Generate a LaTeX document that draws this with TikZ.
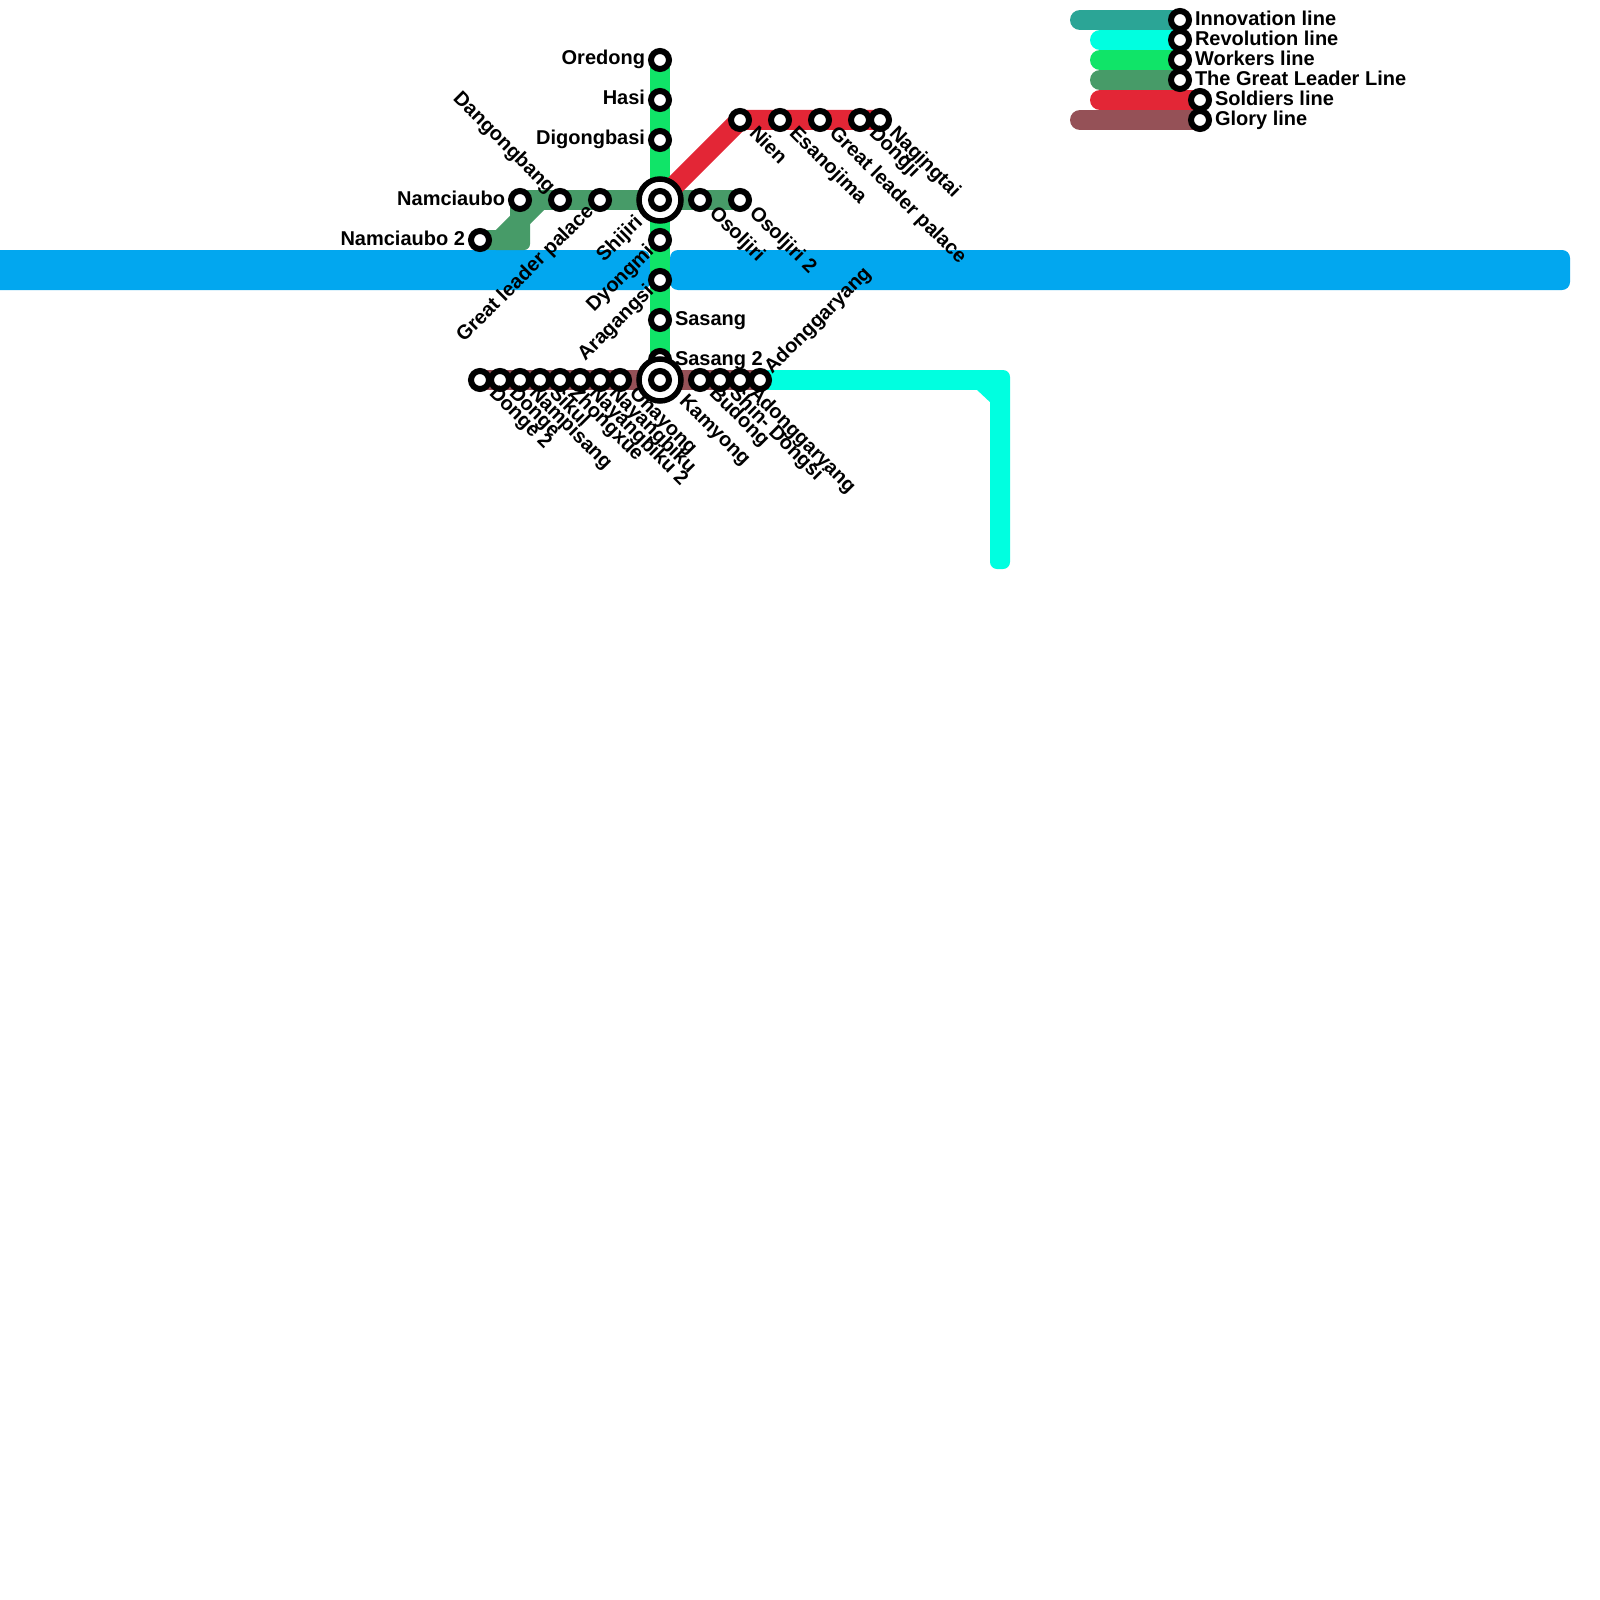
\documentclass[tikz,border=0pt]{standalone}
\usepackage{fontspec}
\setmainfont{Liberation Sans}[BoldFont={Liberation Sans Bold}]
\usetikzlibrary{backgrounds}
\definecolor{cInno}{HTML}{2BA596}
\definecolor{cRev}{HTML}{00FFE0}
\definecolor{cWork}{HTML}{10E468}
\definecolor{cLead}{HTML}{479B68}
\definecolor{cSold}{HTML}{E32636}
\definecolor{cGlory}{HTML}{955157}
\definecolor{cBlue}{HTML}{02A7EF}
\tikzset{
  stn/.style={circle,draw=black,fill=white,line width=6pt,inner sep=0pt,minimum size=18pt},
  hub/.style={circle,draw=black,fill=white,line width=5.5pt,inner sep=0pt,minimum size=42pt},
  txt/.style={font=\fontsize{20}{20}\selectfont\bfseries,text=black,inner sep=0pt,outer sep=0pt},
  lft/.style={txt,shift={(-15,5)},anchor=base east},
  rgt/.style={txt,shift={(15,5)},anchor=base west},
  lgt/.style={txt,shift={(15,5.6)},anchor=base west},
  dr/.style={txt,shift={(8.5,14)},rotate=-45,anchor=base west},
  hubdr/.style={txt,shift={(18.5,22)},rotate=-45,anchor=base west},
  ul/.style={txt,shift={(-12.5,-5.5)},rotate=-45,anchor=base east},
  dl/.style={txt,shift={(-5.5,12.5)},rotate=45,anchor=base east},
  hubdl/.style={txt,shift={(-16.5,23.5)},rotate=45,anchor=base east},
  ur/.style={txt,shift={(12,-5.5)},rotate=45,anchor=base west},
  ln/.style={line width=20pt,line cap=butt,line join=miter},
  rn/.style={line width=20pt,line cap=round},
}
\newcommand{\lbl}[3]{\node[#1] (t#2) at (#2.center) {#3};}
\begin{document}
\begin{tikzpicture}[x=1pt,y=-1pt]
\useasboundingbox (0,0) rectangle (1600,1600);
\clip (0,0) rectangle (1600,1600);
% stations
\node[stn] (ore) at (660,60) {};
\node[stn] (has) at (660,100) {};
\node[stn] (dig) at (660,140) {};
\node[stn] (dyo) at (660,240) {};
\node[stn] (ara) at (660,280) {};
\node[stn] (sas) at (660,320) {};
\node[stn] (sast) at (660,360) {};
\node[stn] (nam) at (520,200) {};
\node[stn] (namt) at (480,240) {};
\node[stn] (dan) at (560,200) {};
\node[stn] (gre) at (600,200) {};
\node[stn] (oso) at (700,200) {};
\node[stn] (osot) at (740,200) {};
\node[stn] (nie) at (740,120) {};
\node[stn] (esa) at (780,120) {};
\node[stn] (glp) at (820,120) {};
\node[stn] (don) at (860,120) {};
\node[stn] (nag) at (880,120) {};
\node[stn] (dgt) at (480,380) {};
\node[stn] (dge) at (500,380) {};
\node[stn] (npi) at (520,380) {};
\node[stn] (sik) at (540,380) {};
\node[stn] (zho) at (560,380) {};
\node[stn] (nyt) at (580,380) {};
\node[stn] (nay) at (600,380) {};
\node[stn] (ona) at (620,380) {};
\node[stn] (bud) at (700,380) {};
\node[stn] (shi) at (720,380) {};
\node[stn] (ado) at (740,380) {};
\node[stn] (adt) at (760,380) {};
\node[hub] (hubA) at (660,200) {};
\node[stn] (shj) at (660,200) {};
\node[hub] (hubB) at (660,380) {};
\node[stn] (kam) at (660,380) {};
% legend stations
\node[stn] (lgA) at (1180,20) {};
\node[stn] (lgB) at (1180,40) {};
\node[stn] (lgC) at (1180,60) {};
\node[stn] (lgD) at (1180,80) {};
\node[stn] (lgE) at (1200,100) {};
\node[stn] (lgF) at (1200,120) {};
\coordinate (lsA) at (1080,20);
\coordinate (lsB) at (1100,40);
\coordinate (lsC) at (1100,60);
\coordinate (lsD) at (1100,80);
\coordinate (lsE) at (1100,100);
\coordinate (lsF) at (1080,120);
\coordinate (cvA) at (1000,380);
\begin{scope}[on background layer]
  \fill[white] (0,0) rectangle (1600,1600);
  \fill[cBlue,rounded corners=8pt] (-30,250) rectangle (650,290);
  \fill[cBlue,rounded corners=8pt] (670,250) rectangle (1570,290);
  \draw[ln,cWork] (ore.center) -- (sast.center);
  \draw[ln,cLead] (namt.center) -- (510,240);
  \fill[cLead,rounded corners=6pt] (510,200) -- (530,200) -- (530,250) -- (490,250) -- (490,230) -- (510,230) -- cycle;
  \draw[ln,cLead] (500,240) -- (540,200);
  \draw[ln,cLead] (nam.center) -- (osot.center);
  \draw[ln,cSold,line join=round] (hubA.center) -- (nie.center) -- (nag.center);
  \draw[ln,cGlory] (dgt.center) -- (adt.center);
  \draw[ln,cRev] (adt.center) -- (cvA);
  \fill[cRev,rounded corners=7pt] (985,370) -- (1010,370) -- (1010,569) -- (990,569) -- (990,370) -- cycle;
  \fill[cRev] (976,389) -- (992,389) -- (992,404) -- cycle;
  \draw[rn,cInno] (lsA) -- (lgA.center);
  \draw[rn,cRev] (lsB) -- (lgB.center);
  \draw[rn,cWork] (lsC) -- (lgC.center);
  \draw[rn,cLead] (lsD) -- (lgD.center);
  \draw[rn,cSold] (lsE) -- (lgE.center);
  \draw[rn,cGlory] (lsF) -- (lgF.center);
\end{scope}
% labels
\lbl{lft}{ore}{Oredong}
\lbl{lft}{has}{Hasi}
\lbl{lft}{dig}{Digongbasi}
\lbl{lft}{nam}{Namciaubo}
\lbl{lft}{namt}{Namciaubo 2}
\lbl{ul}{dan}{Dangongbang}
\lbl{dl}{gre}{Great leader palace}
\lbl{hubdl}{shj}{Shijiri}
\lbl{dl}{dyo}{Dyongmi}
\lbl{dl}{ara}{Aragangsi}
\lbl{rgt}{sas}{Sasang}
\lbl{rgt}{sast}{Sasang 2}
\lbl{dr}{oso}{Osoljiri}
\lbl{dr}{osot}{Osoljiri 2}
\lbl{dr}{nie}{Nien}
\lbl{dr}{esa}{Esanojima}
\lbl{dr}{glp}{Great leader palace}
\lbl{dr}{don}{Dongji}
\lbl{dr}{nag}{Nagingtai}
\lbl{dr}{dgt}{Donge 2}
\lbl{dr}{dge}{Donge}
\lbl{dr}{npi}{Nampisang}
\lbl{dr}{sik}{Sikul}
\lbl{dr}{zho}{Zhongxue}
\lbl{dr}{nyt}{Nayangbiku 2}
\lbl{dr}{nay}{Nayangbiku}
\lbl{dr}{ona}{Onayong}
\lbl{hubdr}{kam}{Kamyong}
\lbl{dr}{bud}{Budong}
\lbl{dr}{shi}{Shin- Dongsi}
\lbl{dr}{ado}{Adonggaryang}
\lbl{ur}{adt}{Adonggaryang}
\lbl{lgt}{lgA}{Innovation line}
\lbl{lgt}{lgB}{Revolution line}
\lbl{lgt}{lgC}{Workers line}
\lbl{lgt}{lgD}{The Great Leader Line}
\lbl{lgt}{lgE}{Soldiers line}
\lbl{rgt}{lgF}{Glory line}
\end{tikzpicture}
\end{document}
